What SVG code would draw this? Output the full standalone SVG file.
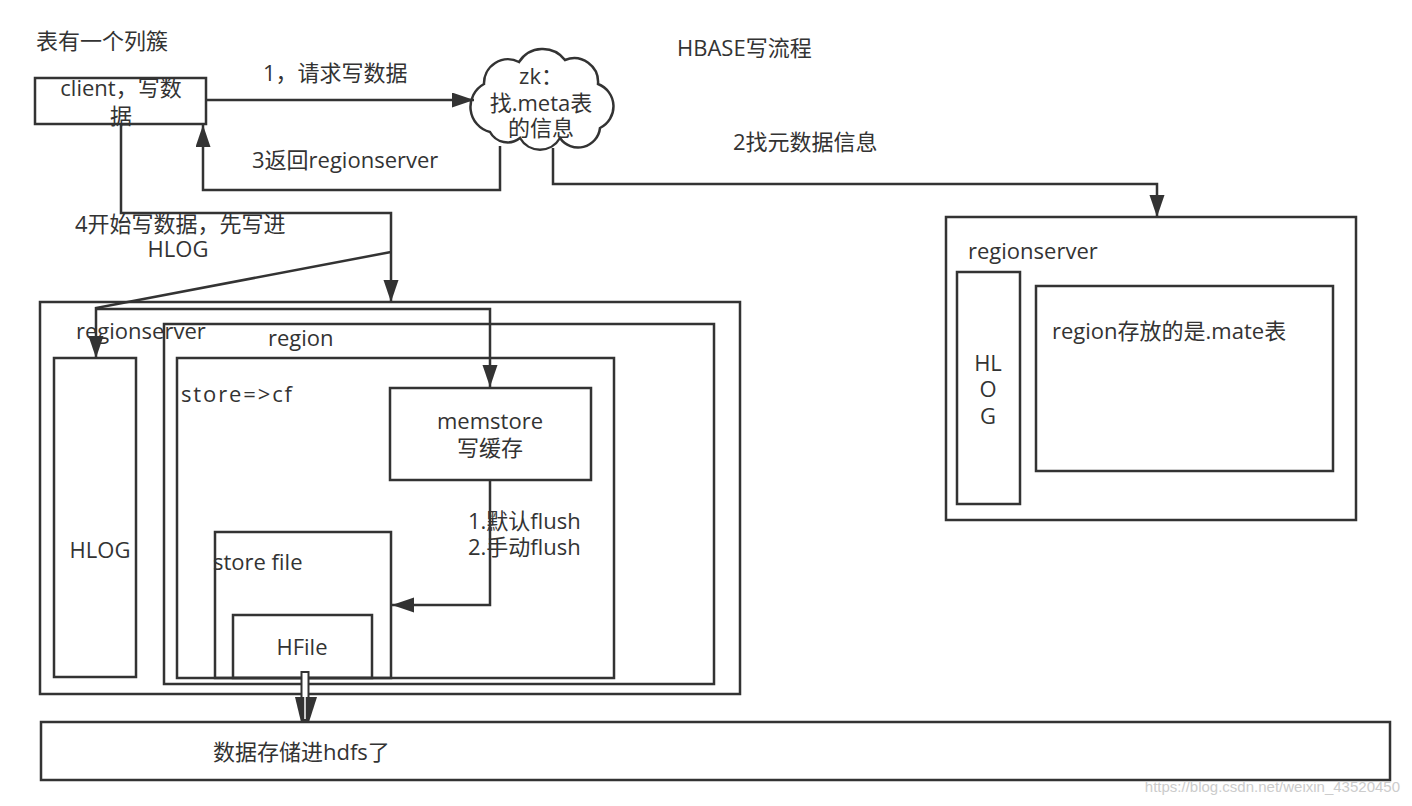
<svg xmlns="http://www.w3.org/2000/svg" width="1412" height="806" viewBox="0 0 1412 806">
<defs>
<style>
.box{fill:none;stroke:#333;stroke-width:2.5}
.line{fill:none;stroke:#333;stroke-width:2.5}
text{font-family:"Open Sans","Noto Sans CJK SC",sans-serif;font-size:22px;fill:#333}
.c{text-anchor:middle}
.wm{font-family:"Liberation Sans",sans-serif;font-size:15px;fill:#ccc;text-anchor:end}
</style>
<marker id="ah" markerUnits="userSpaceOnUse" markerWidth="24" markerHeight="16" refX="22" refY="7.5" orient="auto">
<path d="M0,0 L22,7.5 L0,15 z" fill="#333"/>
</marker>
</defs>
<rect width="1412" height="806" fill="#fff"/>
<text x="36" y="49">表有一个列簇</text>
<text x="677" y="56">HBASE写流程</text>

<g id="left-regionserver">
<rect class="box" x="40" y="302" width="700" height="392"/>
<text x="76" y="339">regionserver</text>
</g>
<g id="hlog-left">
<rect class="box" x="54" y="358" width="82" height="319"/>
<text class="c" x="100" y="558">HLOG</text>
</g>
<g id="region">
<rect class="box" x="164" y="324" width="550" height="360"/>
<text x="268" y="346">region</text>
</g>
<g id="store">
<rect class="box" x="177" y="358" width="437" height="320"/>
<text x="181" y="402" textLength="111" lengthAdjust="spacing">store=&gt;cf</text>
</g>
<g id="memstore">
<rect class="box" x="390" y="388" width="201" height="92"/>
<text class="c" x="490" y="429">memstore</text>
<text class="c" x="490" y="456">写缓存</text>
</g>
<g id="storefile">
<rect class="box" x="215" y="532" width="176" height="146"/>
<text x="213" y="570">store file</text>
</g>
<g id="hfile">
<rect class="box" x="233" y="615" width="139" height="63"/>
<text class="c" x="302" y="655">HFile</text>
</g>
<g id="hdfs">
<rect class="box" x="41" y="722" width="1349" height="58"/>
<text x="213" y="760">数据存储进hdfs了</text>
</g>
<g id="right-regionserver">
<rect class="box" x="946" y="217" width="410" height="303"/>
<text x="968" y="259">regionserver</text>
</g>
<g id="hlog-right">
<rect class="box" x="957" y="272" width="63" height="232"/>
<text class="c" x="988" y="371">HL</text>
<text class="c" x="988" y="397">O</text>
<text class="c" x="988" y="424">G</text>
</g>
<g id="meta-region">
<rect class="box" x="1036" y="286" width="297" height="185"/>
<text x="1052" y="339">region存放的是.mate表</text>
</g>
<g id="client">
<rect class="box" x="35" y="78" width="171" height="46"/>
<text class="c" x="121" y="96">client，写数</text>
<text class="c" x="121" y="124">据</text>
</g>
<g id="zk">
<path class="box" fill="#fff" d="M490,132 A26,26 0 0 1 484,84 A24,24 0 0 1 519,62 A28,28 0 0 1 565,60 A24,24 0 0 1 598,84 A24,24 0 0 1 600,128 A22,22 0 0 1 560,138 A23,23 0 0 1 520,138 A20,20 0 0 1 490,132 Z"/>
<text class="c" x="541" y="84">zk：</text>
<text class="c" x="541" y="111">找.meta表</text>
<text class="c" x="541" y="136">的信息</text>
</g>

<g id="connectors">
<path class="line" d="M206,100 L474,100" marker-end="url(#ah)"/>
<path class="line" d="M500,146 L500,190 L203,190 L203,125" marker-end="url(#ah)"/>
<path class="line" d="M553,148 L553,184 L1157,184 L1157,217" marker-end="url(#ah)"/>
<path class="line" d="M121,124 L121,213 L391,213 L391,302" marker-end="url(#ah)"/>
<path class="line" d="M391,252 L96,308 L96,358" marker-end="url(#ah)"/>
<path class="line" d="M96,309 L490,309 L490,387" marker-end="url(#ah)"/>
<path class="line" d="M490,480 L490,605 L392,605" marker-end="url(#ah)"/>
<rect x="301.5" y="672" width="7" height="28" fill="#fff" stroke="#333" stroke-width="2"/>
<polygon points="295,697 317,697 309,722 301,722" fill="#333"/>
<line x1="305" y1="674" x2="305" y2="719" stroke="#fff" stroke-width="1.5"/>
<text x="263" y="81">1，请求写数据</text>
<text x="252" y="168">3返回regionserver</text>
<text x="733" y="150">2找元数据信息</text>
<text x="75" y="232">4开始写数据，先写进</text>
<text class="c" x="178" y="257">HLOG</text>
<text x="468" y="529">1.默认flush</text>
<text x="468" y="555">2.手动flush</text>
</g>
<text class="wm" x="1400" y="792">https://blog.csdn.net/weixin_43520450</text>
</svg>
